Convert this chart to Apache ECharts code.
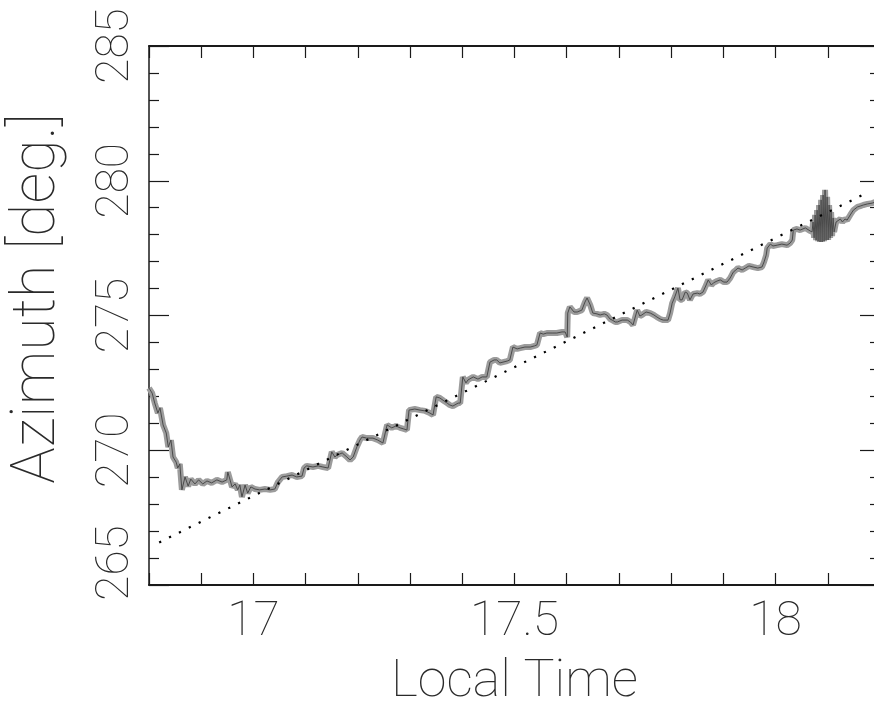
<!DOCTYPE html>
<html>
<head>
<meta charset="utf-8">
<title>Azimuth vs Local Time</title>
<script src="https://cdn.jsdelivr.net/npm/echarts@6/dist/echarts.min.js"></script>
<style>
  html, body { margin: 0; padding: 0; background: #fff; }
  #chart { width: 874px; height: 705px; }
</style>
</head>
<body>
<div id="chart"></div>
<script>
// Measured azimuth track (local time in hours, azimuth in degrees)
const timeHours = [
  16.800, 16.806, 16.811, 16.817, 16.821, 16.827, 16.833, 16.837, 16.842, 16.846,
  16.852, 16.855, 16.859, 16.863, 16.869, 16.875, 16.880, 16.888, 16.895, 16.903,
  16.911, 16.920, 16.930, 16.940, 16.949, 16.951, 16.959, 16.965, 16.970, 16.974,
  16.978, 16.984, 16.989, 16.995, 17.003, 17.012, 17.022, 17.032, 17.041, 17.047,
  17.055, 17.064, 17.074, 17.083, 17.093, 17.097, 17.102, 17.114, 17.124, 17.133,
  17.143, 17.150, 17.156, 17.160, 17.170, 17.179, 17.185, 17.191, 17.194, 17.198,
  17.204, 17.208, 17.217, 17.229, 17.238, 17.248, 17.256, 17.265, 17.273, 17.281,
  17.288, 17.294, 17.298, 17.309, 17.319, 17.329, 17.338, 17.344, 17.350, 17.357,
  17.365, 17.371, 17.376, 17.382, 17.392, 17.396, 17.401, 17.407, 17.411, 17.421,
  17.430, 17.438, 17.447, 17.453, 17.461, 17.466, 17.472, 17.478, 17.486, 17.491,
  17.497, 17.505, 17.511, 17.520, 17.530, 17.538, 17.543, 17.549, 17.555, 17.562,
  17.572, 17.581, 17.591, 17.597, 17.601, 17.602, 17.606, 17.614, 17.620, 17.629,
  17.635, 17.639, 17.645, 17.650, 17.658, 17.664, 17.672, 17.677, 17.683, 17.687,
  17.693, 17.697, 17.706, 17.716, 17.722, 17.727, 17.735, 17.740, 17.744, 17.752,
  17.760, 17.767, 17.773, 17.779, 17.785, 17.794, 17.798, 17.802, 17.807, 17.813,
  17.817, 17.821, 17.827, 17.831, 17.836, 17.842, 17.850, 17.855, 17.861, 17.867,
  17.871, 17.877, 17.881, 17.888, 17.894, 17.901, 17.907, 17.913, 17.919, 17.924,
  17.928, 17.936, 17.942, 17.949, 17.957, 17.966, 17.974, 17.978, 17.982, 17.984,
  17.990, 17.995, 18.003, 18.012, 18.022, 18.028, 18.032, 18.034, 18.041, 18.047,
  18.057, 18.066,
  18.0699, 18.0718, 18.0738, 18.0757, 18.0776, 18.0795, 18.0814, 18.0833, 18.0852, 18.0872,
  18.0891, 18.0910, 18.0929, 18.0948, 18.0967, 18.0987, 18.1006, 18.1025, 18.1044, 18.1063,
  18.1082, 18.1102, 18.1121, 18.1159,
  18.118, 18.124, 18.128, 18.133, 18.137, 18.143, 18.149, 18.157, 18.162, 18.168,
  18.176, 18.185, 18.191
];
const azimuthDeg = [
  272.31, 272.12, 271.75, 271.38, 271.57, 270.94, 270.64, 270.12, 270.38, 269.75,
  269.56, 269.34, 269.49, 268.53, 269.01, 268.67, 268.93, 268.75, 268.90, 268.75,
  268.86, 268.79, 268.90, 268.82, 268.90, 269.19, 268.64, 268.75, 268.53, 268.71,
  268.27, 268.71, 268.41, 268.64, 268.56, 268.53, 268.56, 268.53, 268.56, 268.82,
  269.01, 269.04, 269.08, 269.01, 269.04, 269.34, 269.42, 269.38, 269.42, 269.38,
  269.34, 269.94, 269.75, 269.82, 269.90, 269.75, 269.64, 269.75, 269.82, 270.12,
  270.38, 270.49, 270.45, 270.45, 270.38, 270.27, 270.94, 270.83, 270.90, 270.83,
  270.79, 270.75, 271.49, 271.53, 271.49, 271.46, 271.38, 271.31, 271.98, 271.94,
  271.83, 271.75, 271.68, 271.64, 271.75, 271.75, 272.72, 272.50, 272.61, 272.72,
  272.64, 272.72, 272.72, 273.27, 273.35, 273.35, 273.24, 273.27, 273.31, 273.35,
  273.83, 273.76, 273.79, 273.83, 273.83, 273.87, 273.91, 274.35, 274.31, 274.35,
  274.35, 274.35, 274.39, 274.39, 274.20, 275.09, 275.32, 275.13, 275.13, 275.20,
  275.50, 275.65, 275.39, 275.09, 275.06, 275.02, 275.06, 275.02, 274.87, 274.83,
  274.76, 274.76, 274.83, 274.83, 274.76, 274.65, 275.20, 274.98, 275.02, 275.13,
  275.09, 275.02, 274.94, 274.87, 274.83, 274.83, 275.09, 275.46, 275.69, 276.02,
  275.58, 275.58, 275.87, 275.83, 275.58, 275.80, 275.83, 275.80, 275.87, 276.13,
  276.32, 276.13, 276.21, 276.28, 276.32, 276.24, 276.24, 276.39, 276.61, 276.69,
  276.76, 276.69, 276.76, 276.84, 276.80, 276.76, 276.80, 276.99, 277.24, 277.50,
  277.65, 277.58, 277.61, 277.65, 277.61, 277.69, 277.80, 278.17, 278.21, 278.17,
  278.25, 278.14,
  278.10, 278.47, 277.88, 278.73, 277.80, 278.91, 277.76, 279.10, 277.73, 279.29,
  277.73, 279.47, 277.76, 279.66, 277.80, 279.40, 277.80, 279.10, 277.88, 278.84,
  277.95, 278.62, 278.10, 278.47,
  278.51, 278.58, 278.47, 278.58, 278.54, 278.73, 278.91, 279.03, 279.06, 279.10,
  279.14, 279.17, 279.21
];

// Computed solar azimuth reference (dotted)
const sunTime = [16.8195, 17.4224, 17.969, 18.1759];
const sunAzimuth = [266.58, 272.34, 277.58, 279.56];

// Axis settings
const xRange = [16.8, 18.2];
const yRange = [265, 285];
const xLabeledTicks = [17, 17.5, 18];

const FONT = 'Roboto';
const AXIS_COLOR = '#1a1a1a';
const TEXT_COLOR = '#2a2a2a';

function pairs(xs, ys) {
  return xs.map((x, i) => [x, ys[i]]);
}

function xLabel(v) {
  const hit = xLabeledTicks.find(t => Math.abs(t - v) < 1e-6);
  return hit === undefined ? '' : String(hit);
}

// The lowest azimuth label is nudged up, clear of the time axis corner
function yLabel(v) {
  return v === yRange[0] ? '{low|' + v + '}' : String(v);
}

const chart = echarts.init(document.getElementById('chart'), null, { renderer: 'canvas' });

const tickStyle = { color: AXIS_COLOR, width: 1.2 };
const labelFont = { fontFamily: FONT, fontWeight: 100, color: TEXT_COLOR };

chart.setOption({
  animation: false,
  backgroundColor: '#ffffff',
  grid: { left: 149, top: 46, width: 731, height: 539, containLabel: false, outerBoundsMode: 'none' },
  xAxis: [
    {
      type: 'value', position: 'bottom', min: xRange[0], max: xRange[1], interval: 0.1,
      name: 'Local Time', nameLocation: 'middle', nameGap: 72,
      nameTextStyle: Object.assign({ fontSize: 52 }, labelFont),
      axisLine: { show: true, onZero: false, lineStyle: { color: AXIS_COLOR, width: 2 } },
      axisTick: { show: true, inside: true, length: 12, lineStyle: tickStyle },
      axisLabel: Object.assign({
        show: true, margin: 14, formatter: xLabel, showMinLabel: true, showMaxLabel: true,
        fontSize: 48
      }, labelFont),
      splitLine: { show: false }
    },
    {
      type: 'value', position: 'top', min: xRange[0], max: xRange[1], interval: 0.1,
      axisLine: { show: true, onZero: false, lineStyle: { color: AXIS_COLOR, width: 2 } },
      axisTick: { show: true, inside: true, length: 12, lineStyle: tickStyle },
      axisLabel: { show: false },
      splitLine: { show: false }
    }
  ],
  yAxis: [
    {
      type: 'value', position: 'left', min: yRange[0], max: yRange[1], interval: 5,
      name: 'Azimuth [deg.]', nameLocation: 'middle', nameGap: 80,
      nameTextStyle: Object.assign({ fontSize: 61, padding: [0, 0, 0, 34] }, labelFont),
      axisLine: { show: true, onZero: false, lineStyle: { color: AXIS_COLOR, width: 1.5 } },
      axisTick: { show: true, inside: true, length: 20, lineStyle: tickStyle },
      minorTick: { show: true, splitNumber: 5, length: 10, lineStyle: tickStyle },
      axisLabel: Object.assign({
        show: true, rotate: 90, margin: 10, fontSize: 46, formatter: yLabel,
        rich: { low: Object.assign({ fontSize: 46, padding: [0, 0, 0, 44] }, labelFont) }
      }, labelFont),
      splitLine: { show: false }
    },
    {
      type: 'value', position: 'right', min: yRange[0], max: yRange[1], interval: 5,
      axisLine: { show: true, onZero: false, lineStyle: { color: AXIS_COLOR, width: 1.5 } },
      axisTick: { show: true, inside: true, length: 20, lineStyle: tickStyle },
      minorTick: { show: true, splitNumber: 5, length: 10, lineStyle: tickStyle },
      axisLabel: { show: false },
      splitLine: { show: false }
    }
  ],
  series: [
    {
      name: 'measured band', type: 'line', xAxisIndex: 0, yAxisIndex: 0,
      data: pairs(timeHours, azimuthDeg), showSymbol: false, symbol: 'none',
      lineStyle: { color: '#9c9c9c', width: 6 }, silent: true, z: 2
    },
    {
      name: 'measured', type: 'line', xAxisIndex: 0, yAxisIndex: 0,
      data: pairs(timeHours, azimuthDeg), showSymbol: false, symbol: 'none',
      lineStyle: { color: '#4a4a4a', width: 1 }, silent: true, z: 3
    },
    {
      name: 'sun', type: 'line', xAxisIndex: 0, yAxisIndex: 0,
      data: pairs(sunTime, sunAzimuth), showSymbol: false, symbol: 'none',
      lineStyle: { color: '#000', width: 2.2, type: [2.2, 8.8], cap: 'butt' },
      silent: true, z: 4
    }
  ]
});
</script>
</body>
</html>
